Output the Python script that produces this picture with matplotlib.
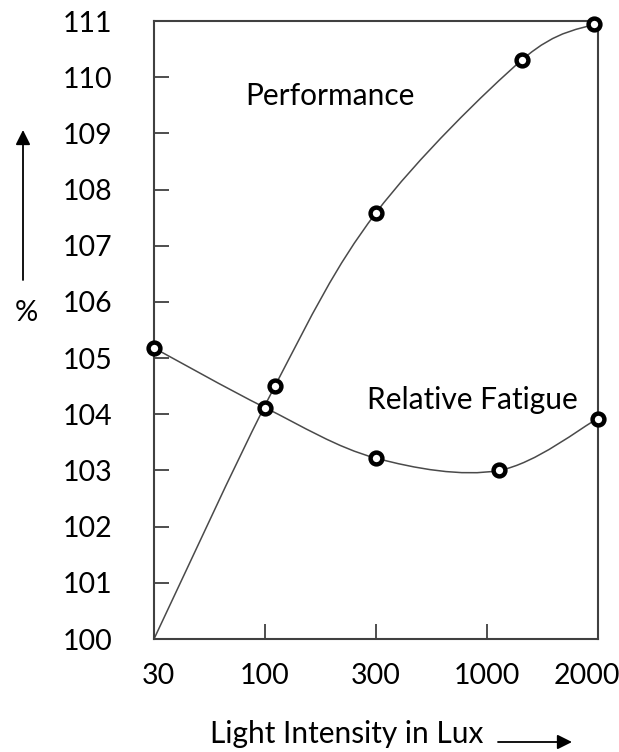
import numpy as np
import matplotlib
matplotlib.use("Agg")
import matplotlib.pyplot as plt
from matplotlib.path import Path
from matplotlib.patches import PathPatch
from matplotlib.transforms import ScaledTranslation

# Data (x = position of the lux category, 0..4)
lux_labels = ["30", "100", "300", "1000", "2000"]
perf_x = [0.0, 1.09, 2.0, 3.32, 3.97]
perf_y = [100.0, 104.5, 107.58, 110.31, 110.95]
fatigue_x = [0.0, 1.0, 2.0, 3.11, 4.0]
fatigue_y = [105.18, 104.12, 103.22, 103.0, 103.92]
y_ticks = list(range(100, 112))

FONT = "Lato"
DARK = "#404040"


def smooth_path(xs, ys, tension=1.0 / 6):
    # Catmull-Rom style bezier through the given points
    pts = np.column_stack([xs, ys])
    verts = [pts[0]]
    codes = [Path.MOVETO]
    n = len(pts)
    for i in range(n - 1):
        p0 = pts[i - 1] if i > 0 else pts[i]
        p1 = pts[i]
        p2 = pts[i + 1]
        p3 = pts[i + 2] if i + 2 < n else pts[i + 1]
        c1 = p1 + (p2 - p0) * tension
        c2 = p2 - (p3 - p1) * tension
        verts += [c1, c2, p2]
        codes += [Path.CURVE4] * 3
    return Path(verts, codes)


fig = plt.figure(figsize=(6.19, 7.52), dpi=100)
ax = fig.add_axes([154 / 619, 1 - 639 / 752, (597.5 - 154) / 619, (639 - 21) / 752])

for xs, ys in [(perf_x, perf_y), (fatigue_x, fatigue_y)]:
    ax.add_patch(PathPatch(smooth_path(xs, ys), facecolor="none",
                           edgecolor="#4a4a4a", lw=1.1, zorder=2))

mk = dict(ls="none", marker="o", ms=8.5, mfc="white", mec="black", mew=3.2, zorder=3, clip_on=False)
ax.plot(perf_x[1:], perf_y[1:], **mk)
ax.plot(fatigue_x, fatigue_y, **mk)

ax.set_xlim(0, 4)
ax.set_ylim(100, 111)
ax.set_xticks(range(len(lux_labels)))
ax.set_xticklabels(lux_labels)
ax.set_yticks(y_ticks)
ax.set_yticklabels([str(v) for v in y_ticks])

for s in ax.spines.values():
    s.set_color(DARK)
    s.set_linewidth(1.5)
ax.tick_params(direction="in", length=11, width=1.3, color=DARK, labelsize=20.5)
ax.tick_params(axis="y", pad=30)
ax.tick_params(axis="x", pad=17)
for lab in ax.get_xticklabels() + ax.get_yticklabels():
    lab.set_fontfamily(FONT)
# nudge first and last x labels like the original
first = ax.get_xticklabels()[0]
first.set_transform(first.get_transform() + ScaledTranslation(4 / 100, 0, fig.dpi_scale_trans))
last = ax.get_xticklabels()[-1]
last.set_transform(last.get_transform() + ScaledTranslation(-11 / 100, 0, fig.dpi_scale_trans))

ax.text(1.59, 109.67, "Performance", fontsize=21.5, family=FONT, ha="center", va="center")
ax.text(2.87, 104.25, "Relative Fatigue", fontsize=21.5, family=FONT, ha="center", va="center")

fig.text(347 / 619, 1 - 734 / 752, "Light Intensity in Lux", fontsize=21.5, family=FONT,
         ha="center", va="center")
fig.text(26 / 619, 1 - 313 / 752, "%", fontsize=21, family=FONT, ha="center", va="center")

arrow = dict(arrowstyle="-|>", color="black", lw=1.3, mutation_scale=22, shrinkA=0, shrinkB=0)
ax.annotate("", xy=(572 / 619, 1 - 742 / 752), xytext=(498 / 619, 1 - 742 / 752),
            xycoords="figure fraction", textcoords="figure fraction", arrowprops=arrow)
ax.annotate("", xy=(23 / 619, 1 - 130 / 752), xytext=(23 / 619, 1 - 280 / 752),
            xycoords="figure fraction", textcoords="figure fraction", arrowprops=arrow)

fig.savefig("out.png", dpi=100)
